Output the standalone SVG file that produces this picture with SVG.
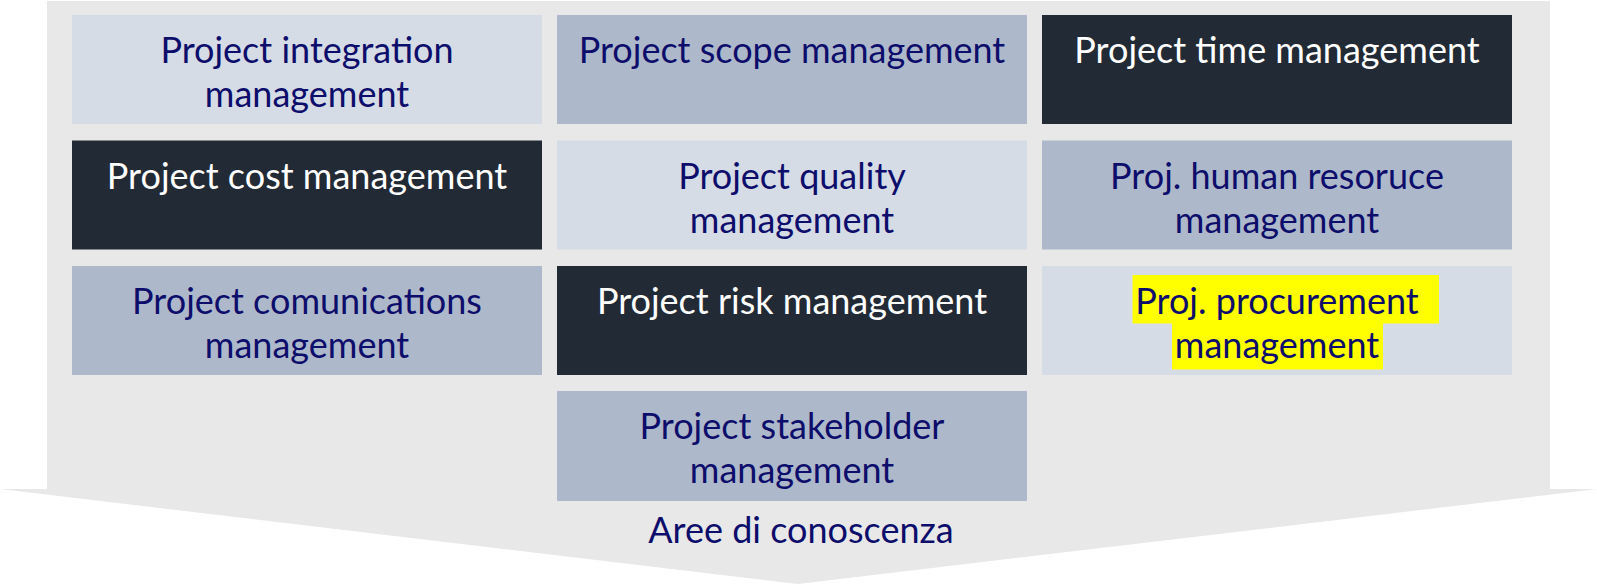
<svg xmlns="http://www.w3.org/2000/svg" width="1597" height="584" viewBox="0 0 1597 584">
<style>
.bg{fill:#E8E8E8}
.l{fill:#D6DCE5}
.m{fill:#ADB9CA}
.d{fill:#222A35}
.hl{fill:#FFFF00}
text{font-family:Lato,"Liberation Sans",sans-serif;font-size:36px;text-anchor:middle}
.tb{fill:#0D0D6B}
.tw{fill:#FFFFFF}
</style>
<polygon id="arrow-bg" class="bg" points="47,1 1550,1 1550,489 1597,489 798,584 0,489 47,489"/>
<g id="n1"><rect class="l" x="72" y="15" width="470" height="109"/><text class="tb" x="307" y="63">Project integration</text><text class="tb" x="307" y="107">management</text></g>
<g id="n2"><rect class="m" x="557" y="15" width="470" height="109"/><text class="tb" x="792" y="63">Project scope management</text></g>
<g id="n3"><rect class="d" x="1042" y="15" width="470" height="109"/><text class="tw" x="1277" y="63">Project time management</text></g>
<g id="n4"><rect class="d" x="72" y="140.5" width="470" height="109"/><text class="tw" x="307" y="188.5">Project cost management</text></g>
<g id="n5"><rect class="l" x="557" y="140.5" width="470" height="109"/><text class="tb" x="792" y="188.5">Project quality</text><text class="tb" x="792" y="232.5">management</text></g>
<g id="n6"><rect class="m" x="1042" y="140.5" width="470" height="109"/><text class="tb" x="1277" y="188.5">Proj. human resoruce</text><text class="tb" x="1277" y="232.5">management</text></g>
<g id="n7"><rect class="m" x="72" y="266" width="470" height="109"/><text class="tb" x="307" y="314">Project comunications</text><text class="tb" x="307" y="358">management</text></g>
<g id="n8"><rect class="d" x="557" y="266" width="470" height="109"/><text class="tw" x="792" y="314">Project risk management</text></g>
<g id="n9"><rect class="l" x="1042" y="266" width="470" height="109"/><rect class="hl" x="1132.5" y="275" width="306.5" height="48.5"/><rect class="hl" x="1172" y="323" width="211" height="46.5"/><text class="tb" x="1277" y="314">Proj. procurement</text><text class="tb" x="1277" y="358">management</text></g>
<g id="n10"><rect class="m" x="557" y="391" width="470" height="110"/><text class="tb" x="792" y="439">Project stakeholder</text><text class="tb" x="792" y="483">management</text></g>
<g id="label"><text class="tb" x="801" y="543">Aree di conoscenza</text></g>
<g id="connectors"></g>
</svg>
